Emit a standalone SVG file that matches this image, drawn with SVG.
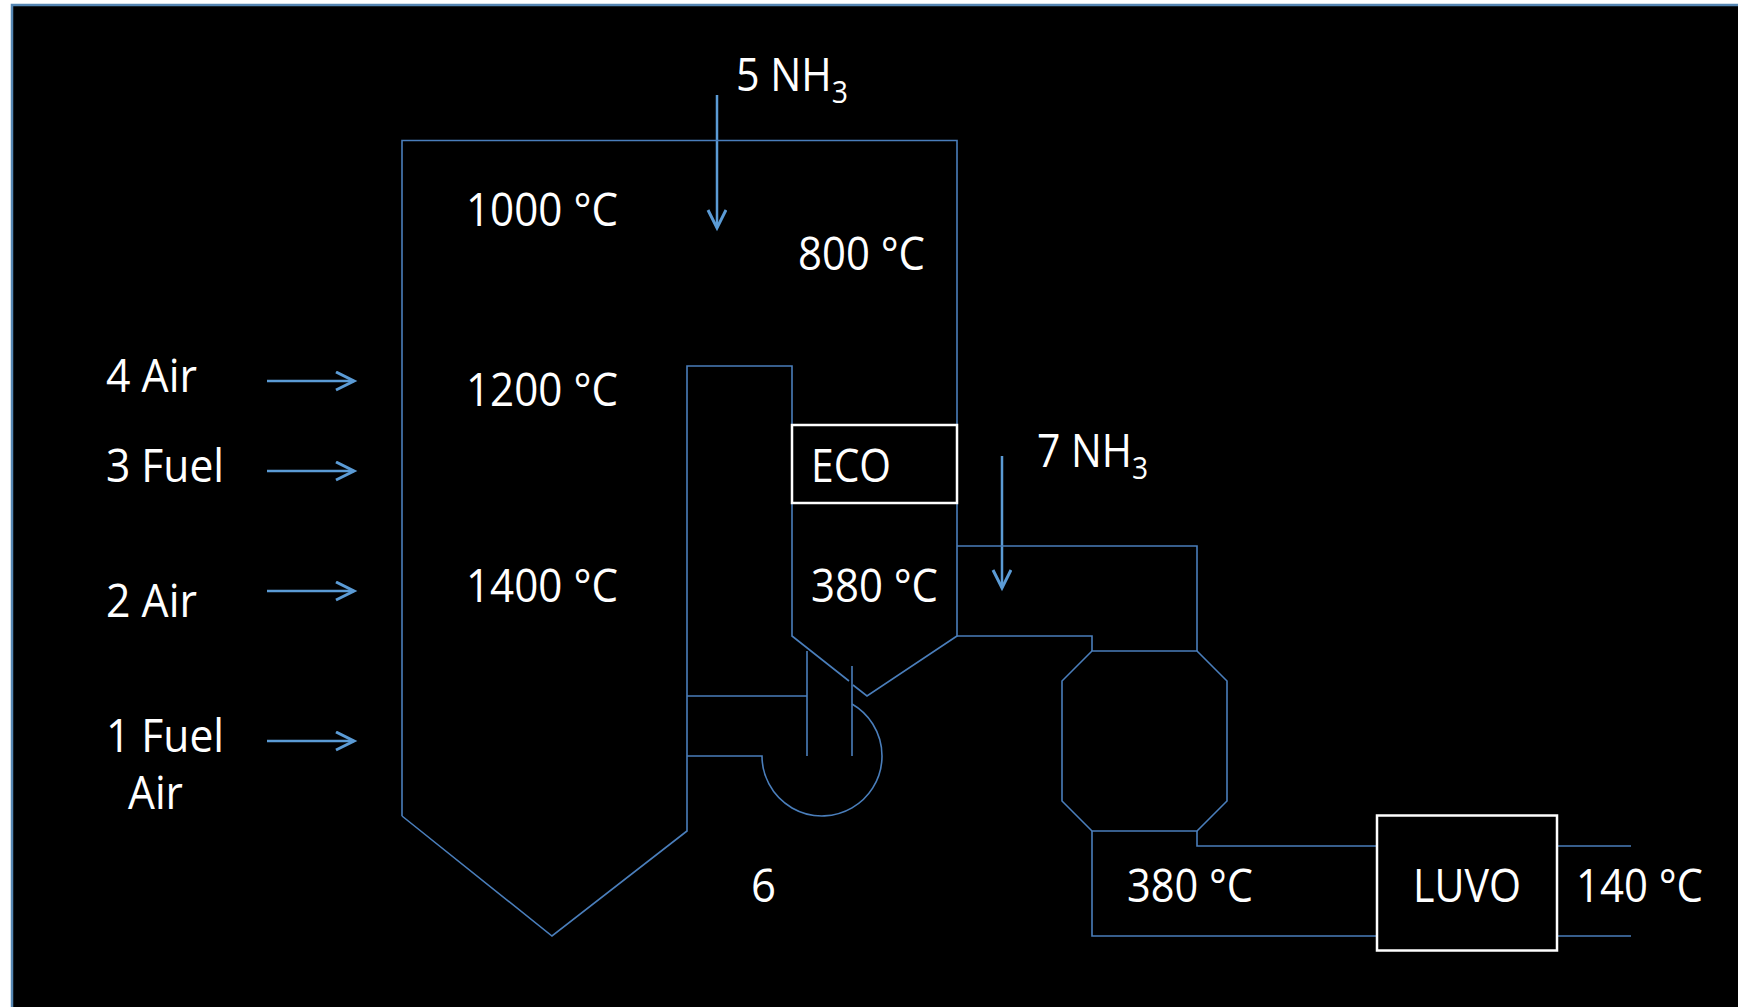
<svg xmlns="http://www.w3.org/2000/svg" width="1738" height="1007" viewBox="0 0 1738 1007">
<style>
.w{fill:none;stroke:#4a7ebb;stroke-width:1.6}
.box{fill:none;stroke:#fff;stroke-width:2.5}
.ar{fill:none;stroke:#5b9bd5;stroke-width:2.5;marker-end:url(#ah)}
text{font-family:"Open Sans","Noto Sans",sans-serif;font-size:45px;fill:#fff}
.s{font-size:31px}
</style>
<defs>
<marker id="ah" markerUnits="userSpaceOnUse" markerWidth="24" markerHeight="24" refX="19" refY="10" orient="auto">
<path d="M1 1L19 10L1 19" fill="none" stroke="#5b9bd5" stroke-width="3"/>
</marker>
</defs>
<rect x="0" y="0" width="1738" height="1007" fill="#fff"/>
<rect x="12" y="5" width="1740" height="1020" fill="#000" stroke="#5586b3" stroke-width="2.5"/>
<g transform="translate(0 1)">
<g id="connectors">
<path class="ar" d="M717 94V227"/>
<path class="ar" d="M1002 455V587"/>
<path class="ar" d="M267 380H354"/>
<path class="ar" d="M267 470H354"/>
<path class="ar" d="M267 590H354"/>
<path class="ar" d="M267 740H354"/>
<path class="w" d="M957 545H1197V650"/>
<path class="w" d="M957 635H1092V650"/>
<path class="w" d="M1092 830V935H1376"/>
<path class="w" d="M1197 830V845H1376"/>
<path class="w" d="M1558 845H1631"/>
<path class="w" d="M1558 935H1631"/>
</g>
<g id="furnace">
<path class="w" d="M402 815V139.5H957V635L867 695L853 684M849 680L792 635V502M792 425V365H687V830L552 935L402 815"/>
<path class="w" d="M687 695H807M807 650V755M852 665V755"/>
<path class="w" d="M687 755H762A60 60 0 1 0 852 703"/>
</g>
</g>
<g id="t1000"><text x="466" y="226" textLength="152" lengthAdjust="spacingAndGlyphs">1000 °C</text></g>
<g id="t800"><text x="798" y="270" textLength="127" lengthAdjust="spacingAndGlyphs">800 °C</text></g>
<g id="t1200"><text x="466" y="406" textLength="152" lengthAdjust="spacingAndGlyphs">1200 °C</text></g>
<g id="t1400"><text x="466" y="602" textLength="152" lengthAdjust="spacingAndGlyphs">1400 °C</text></g>
<g id="nh5"><text x="736" y="91" textLength="112" lengthAdjust="spacingAndGlyphs">5 NH<tspan class="s" dy="12">3</tspan></text></g>
<g id="nh7"><text x="1037" y="467" textLength="111" lengthAdjust="spacingAndGlyphs">7 NH<tspan class="s" dy="12">3</tspan></text></g>
<g id="air4"><text x="106" y="392" textLength="91" lengthAdjust="spacingAndGlyphs">4 Air</text></g>
<g id="fuel3"><text x="106" y="482" textLength="118" lengthAdjust="spacingAndGlyphs">3 Fuel</text></g>
<g id="air2"><text x="106" y="617" textLength="91" lengthAdjust="spacingAndGlyphs">2 Air</text></g>
<g id="fuel1"><text x="106" y="752" textLength="118" lengthAdjust="spacingAndGlyphs">1 Fuel</text><text x="128" y="809" textLength="55" lengthAdjust="spacingAndGlyphs">Air</text></g>
<g id="six"><text x="751" y="902" textLength="25" lengthAdjust="spacingAndGlyphs">6</text></g>
<g id="eco"><rect class="box" x="792" y="425" width="165" height="78"/><text x="811" y="482" textLength="80" lengthAdjust="spacingAndGlyphs">ECO</text></g>
<g id="t380a"><text x="811" y="602" textLength="127" lengthAdjust="spacingAndGlyphs">380 °C</text></g>
<g id="cyclone" transform="translate(0 1)"><path class="w" d="M1092 650H1197L1227 680V800L1197 830H1092L1062 800V680Z"/></g>
<g id="t380b"><text x="1127" y="902" textLength="126" lengthAdjust="spacingAndGlyphs">380 °C</text></g>
<g id="luvo"><rect class="box" x="1377" y="815.5" width="180" height="135"/><text x="1413" y="902" textLength="108" lengthAdjust="spacingAndGlyphs">LUVO</text></g>
<g id="t140"><text x="1576" y="902" textLength="127" lengthAdjust="spacingAndGlyphs">140 °C</text></g>
</svg>
